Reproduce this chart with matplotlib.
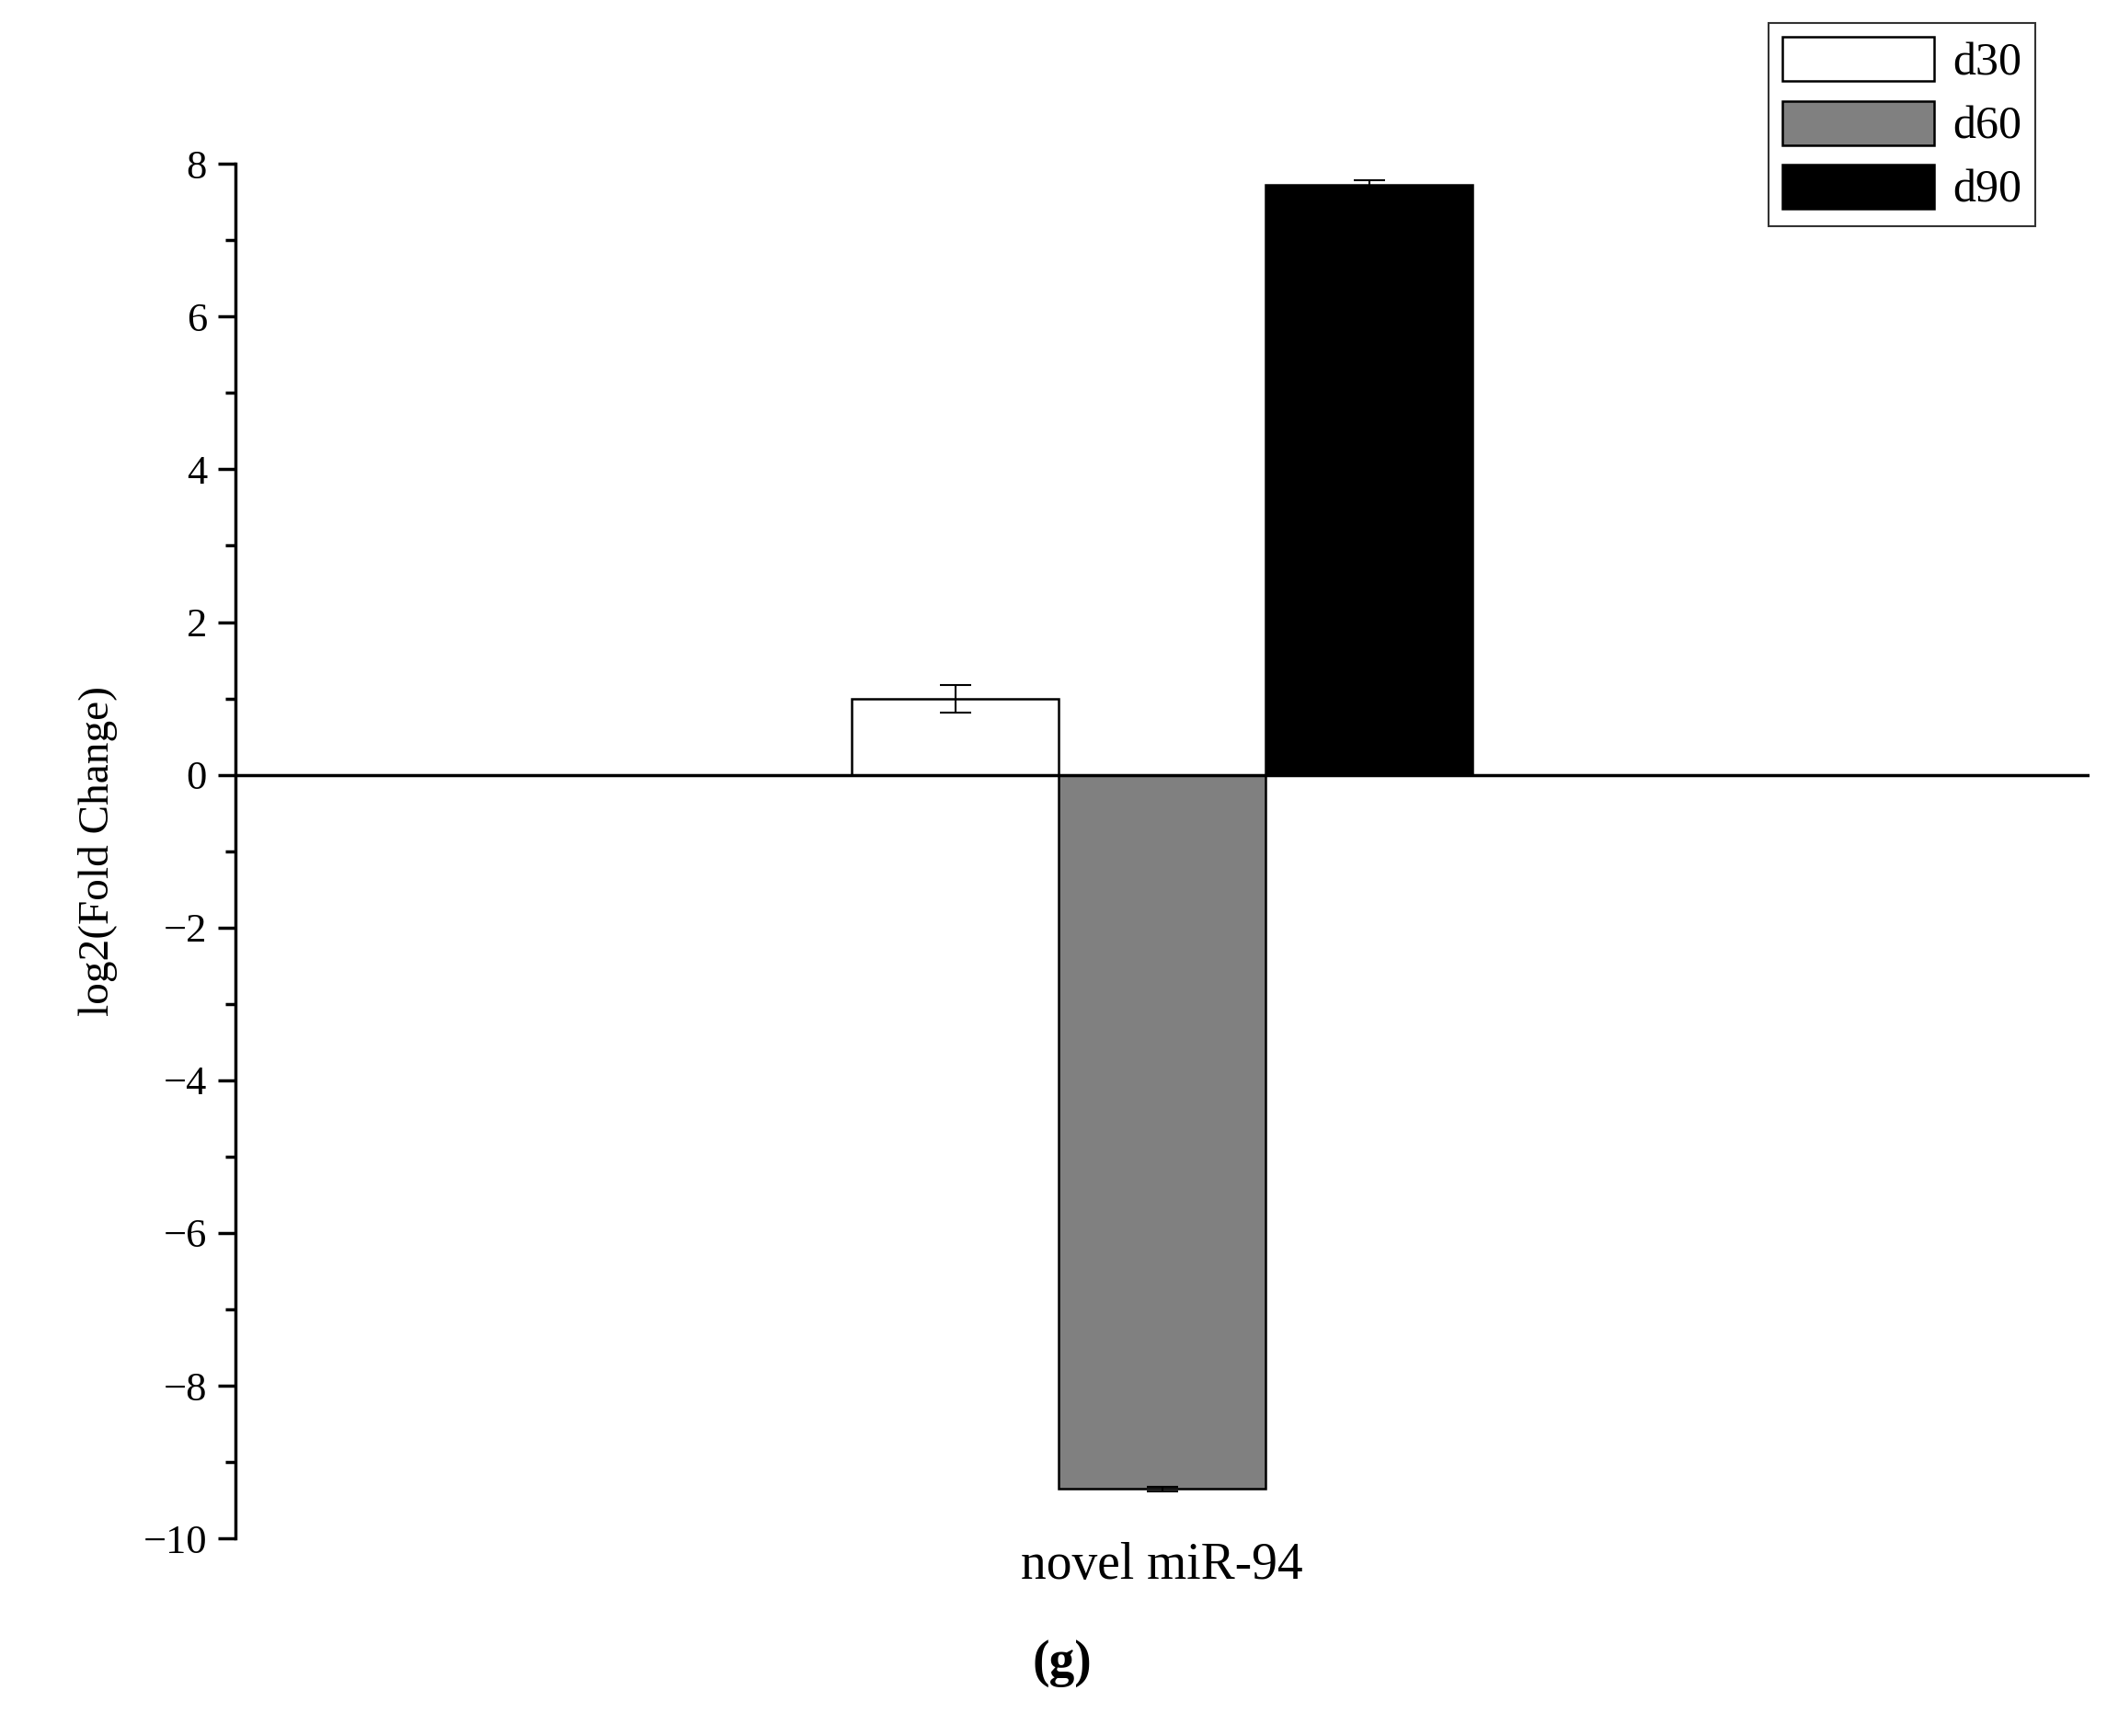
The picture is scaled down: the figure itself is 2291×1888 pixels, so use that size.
import matplotlib
matplotlib.use("Agg")
import matplotlib.pyplot as plt
from matplotlib.ticker import MultipleLocator

series = ["d30", "d60", "d90"]
values = [1.0, -9.35, 7.72]
errors = [0.18, 0.03, 0.06]
colors = ["white", "#808080", "black"]
category = "novel miR-94"

plt.rcParams['font.family'] = ['Liberation Serif', 'DejaVu Serif']
fig = plt.figure(figsize=(22.91, 18.88), dpi=100)
ax = fig.add_axes([0.1116, 0.1138, 0.880, 0.7918])
w = 0.1116
center = 0.5
for i, (s, v, e, c) in enumerate(zip(series, values, errors, colors)):
    ax.bar(center + (i - 1) * w, v, width=w, color=c, edgecolor="black", linewidth=1.8,
           yerr=e, capsize=12, error_kw=dict(elinewidth=1.5, capthick=1.5), label=s, zorder=2)
ax.axhline(0, color="black", linewidth=2.5, zorder=3)
ax.set_xlim(0, 1)
ax.set_ylim(-10, 8)
for sp in ["top", "right", "bottom"]:
    ax.spines[sp].set_visible(False)
ax.spines["left"].set_linewidth(2.5)
ax.set_xticks([])
ax.yaxis.set_major_locator(MultipleLocator(2))
ax.yaxis.set_minor_locator(MultipleLocator(1))
ax.tick_params(axis="y", which="major", direction="out", length=14, width=2.5, labelsize=32, pad=8)
ax.tick_params(axis="y", which="minor", direction="out", length=8, width=2.5)
ax.set_ylabel("log2(Fold Change)", fontsize=34, labelpad=20)
ax.text(center, -10.05, category, ha="center", va="top", fontsize=40)
fig.text(0.504, 0.028, "(g)", ha="center", va="bottom", fontsize=40, fontweight="bold")
leg = fig.legend(loc="upper right", bbox_to_anchor=(0.977, 1.0), fontsize=36, frameon=True,
                 fancybox=False, edgecolor="black", handlelength=3.3, handleheight=1.1,
                 labelspacing=0.35, borderpad=0.3, handletextpad=0.4)
leg.get_frame().set_linewidth(1.5)
fig.savefig("out.png", dpi=100)
